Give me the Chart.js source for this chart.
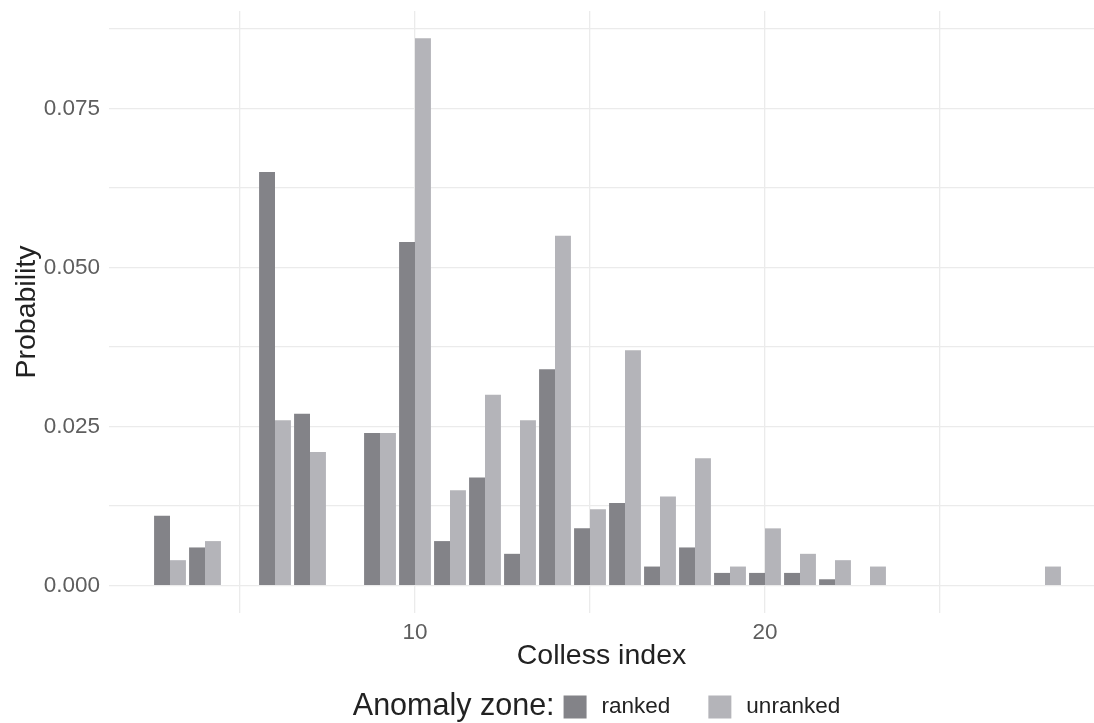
<!DOCTYPE html>
<html>
<head>
<meta charset="utf-8">
<script src="https://cdn.jsdelivr.net/npm/chart.js@4"></script>
<style>
	html, body { margin: 0; padding: 0; background: #fff; }
	canvas { display: block; }
</style>
</head>
<body>
<canvas id="colless-canvas" width="1094" height="723"></canvas>
<script>
// data

const collessIndex = [3, 4, 6, 7, 9, 10, 11, 12, 13, 14, 15, 16, 17, 18, 19, 20, 21, 22, 23, 28]
const rankedProb = [0.011, 0.006, 0.065, 0.027, 0.024, 0.054, 0.007, 0.017, 0.005, 0.034, 0.009, 0.013, 0.003, 0.006, 0.002, 0.002, 0.002, 0.001, 0.0001, 0.0001]
const unrankedProb = [0.004, 0.007, 0.026, 0.021, 0.024, 0.086, 0.015, 0.030, 0.026, 0.055, 0.012, 0.037, 0.014, 0.020, 0.003, 0.009, 0.005, 0.004, 0.003, 0.003]

const seriesNames = ["ranked", "unranked"]
const legendTitle = "Anomaly zone:"

const xMajorTicks = [10, 20]
const xMinorTicks = [5, 15, 25]
const yMajorTicks = [0, 0.025, 0.05, 0.075]
const yMinorTicks = [0.0125, 0.0375, 0.0625, 0.0875]

// style settings

const FONT = "'Liberation Sans', Arial, Helvetica, sans-serif"
const rankedColor = "#838388"
const unrankedColor = "#b4b4b9"
const gridColor = "#ebebeb"
const tickColor = "#5e5e5e"

Chart.defaults.font.family = FONT

const toPoints = values => collessIndex.map((x, i) => ({ x: x, y: values[i] }))

// legend drawn in the bottom strip, ggplot style (title inline with keys)
const zoneLegend = {
	id: "zoneLegend",
	afterDraw(chart) {
		const ctx = chart.ctx
		const area = chart.chartArea
		const box = 23
		const colors = [rankedColor, unrankedColor]

		ctx.save()
		ctx.textBaseline = "middle"
		ctx.font = `30.5px ${FONT}`
		const titleW = ctx.measureText(legendTitle).width
		ctx.font = `22.5px ${FONT}`
		const labelW = seriesNames.map(n => ctx.measureText(n).width)

		const total = titleW + 9 + box + 15 + labelW[0] + 38 + box + 15 + labelW[1]
		let x = (area.left + area.right) / 2 - 5 - total / 2
		const y = chart.height - 16

		ctx.fillStyle = "#222"
		ctx.font = `30.5px ${FONT}`
		ctx.fillText(legendTitle, x, y)
		x += titleW + 9

		ctx.font = `22.5px ${FONT}`
		seriesNames.forEach((name, i) => {
			ctx.fillStyle = colors[i]
			ctx.fillRect(x, y - box / 2, box, box)
			x += box + 15
			ctx.fillStyle = "#222"
			ctx.fillText(name, x, y)
			x += labelW[i] + 38
		})
		ctx.restore()
	},
}

const config = {
	type: "bar",
	data: {
		datasets: [
			{
				label: seriesNames[0],
				data: toPoints(rankedProb),
				backgroundColor: rankedColor,
			},
			{
				label: seriesNames[1],
				data: toPoints(unrankedProb),
				backgroundColor: unrankedColor,
			},
		],
	},
	options: {
		responsive: false,
		animation: false,
		layout: {
			padding: { top: 11, right: 0, bottom: 50, left: 0 },
		},
		datasets: {
			bar: {
				categoryPercentage: 0.91,
				barPercentage: 1,
				borderWidth: 0,
			},
		},
		plugins: {
			legend: { display: false },
			tooltip: { enabled: false },
		},
		scales: {
			x: {
				type: "linear",
				offset: false,
				min: 1.257,
				max: 29.4,
				afterBuildTicks: axis => {
					axis.ticks = [...xMinorTicks, ...xMajorTicks].sort((a, b) => a - b).map(v => ({ value: v }))
				},
				afterFit: axis => {
					axis.height = 60
					axis.paddingLeft = 0
					axis.paddingRight = 0
				},
				border: { display: false },
				grid: {
					color: gridColor,
					lineWidth: 1.3,
					offset: false,
					drawTicks: false,
				},
				ticks: {
					color: tickColor,
					font: { size: 22.5 },
					padding: 6,
					maxRotation: 0,
					autoSkip: false,
					callback: value => (xMajorTicks.includes(value) ? String(value) : ""),
				},
				title: {
					display: true,
					text: "Colless index",
					color: "#222",
					font: { size: 28.5 },
					padding: { top: 0, bottom: 0 },
				},
			},
			y: {
				min: -0.0043,
				max: 0.0903,
				afterBuildTicks: axis => {
					axis.ticks = [...yMajorTicks, ...yMinorTicks].sort((a, b) => a - b).map(v => ({ value: v }))
				},
				afterFit: axis => {
					axis.width = 109
					axis.paddingTop = 0
					axis.paddingBottom = 0
				},
				border: { display: false },
				grid: {
					color: gridColor,
					lineWidth: 1.3,
					drawTicks: false,
				},
				ticks: {
					color: tickColor,
					font: { size: 22.5 },
					padding: 9,
					autoSkip: false,
					callback: value => (yMajorTicks.includes(value) ? value.toFixed(3) : ""),
				},
				title: {
					display: true,
					text: "Probability",
					color: "#222",
					font: { size: 28.5 },
					padding: { top: 10, bottom: 0 },
				},
			},
		},
	},
	plugins: [zoneLegend],
}

new Chart(document.querySelector("#colless-canvas"), config)
</script>
</body>
</html>
